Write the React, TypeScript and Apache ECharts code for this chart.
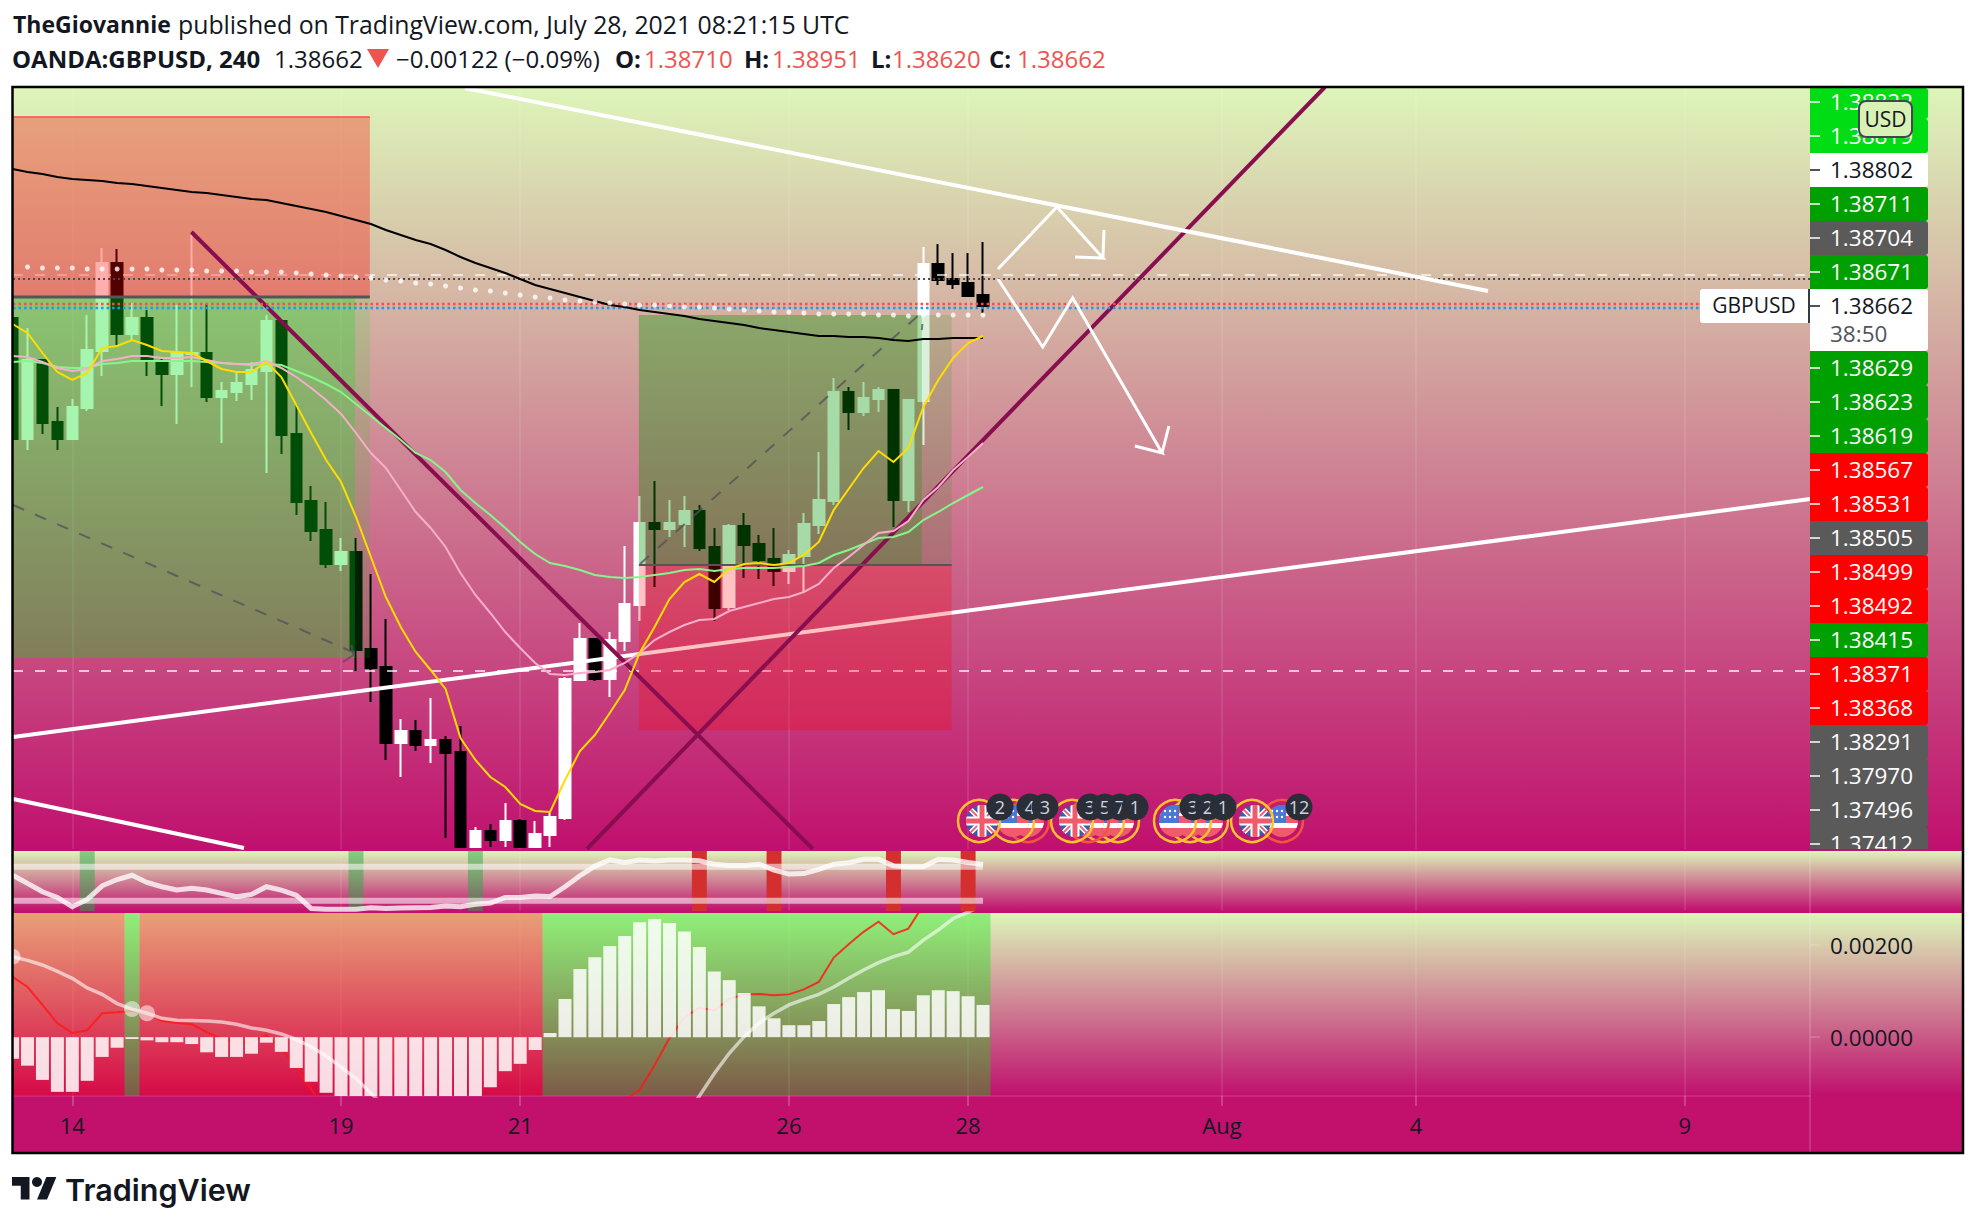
import React, { useEffect, useRef } from "react";
import * as echarts from "echarts";

// ---- candles: [open, close, low, high] for each 4h bar
const candles = [
  [1.38606,1.38122,1.38118,1.38606],[1.38122,1.38438,1.38078,1.38566],[1.38438,1.38186,1.38142,1.38438],[1.3819,1.38122,1.38078,1.3825],
  [1.38122,1.3825,1.38118,1.38282],[1.38246,1.38478,1.38234,1.38618],[1.38474,1.38826,1.38374,1.38886],[1.38826,1.38542,1.38498,1.38882],
  [1.38542,1.38606,1.38518,1.38666],[1.38606,1.38438,1.38374,1.38638],[1.38426,1.38382,1.38254,1.38442],[1.38382,1.38466,1.38182,1.38658],
  [1.38462,1.38466,1.3833,1.38946],[1.38466,1.3829,1.3827,1.38662],[1.3829,1.38314,1.38106,1.3835],[1.3831,1.38346,1.38274,1.3839],
  [1.38342,1.38398,1.38278,1.3843],[1.38394,1.38594,1.37986,1.38618],[1.38594,1.38138,1.38062,1.38594],[1.38142,1.3787,1.37818,1.38258],
  [1.37874,1.37754,1.37714,1.37934],[1.37758,1.37622,1.37606,1.3787],[1.37622,1.3767,1.37594,1.37726],[1.3767,1.37278,1.37194,1.37726],
  [1.37282,1.37206,1.3707,1.37582],[1.3721,1.36906,1.36838,1.37402],[1.36906,1.36954,1.3677,1.37002],[1.36954,1.36898,1.36874,1.36998],
  [1.36898,1.36918,1.36826,1.37086],[1.36918,1.36866,1.36526,1.36934],[1.3687,1.3649,1.3649,1.36974],[1.3649,1.36554,1.3649,1.3657],
  [1.36554,1.36518,1.3649,1.36582],[1.36518,1.36594,1.3649,1.36666],[1.36594,1.3649,1.3649,1.36602],[1.3649,1.36542,1.3649,1.36594],
  [1.36538,1.3661,1.3649,1.36626],[1.36606,1.37162,1.36598,1.3717],[1.37158,1.37322,1.37154,1.37386],[1.37322,1.37162,1.37154,1.37326],
  [1.37162,1.37318,1.3709,1.3735],[1.37314,1.37462,1.37274,1.37694],[1.37458,1.37786,1.37394,1.37894],[1.37786,1.37762,1.3753,1.37954],
  [1.37762,1.37786,1.3773,1.37878],[1.37782,1.37834,1.3769,1.37894],[1.37834,1.37686,1.37674,1.37858],[1.3769,1.37446,1.37394,1.37766],
  [1.3745,1.37774,1.37438,1.37782],[1.37774,1.37698,1.37566,1.37826],[1.37702,1.37638,1.37562,1.37738],[1.37642,1.37594,1.37534,1.37766],
  [1.37594,1.37658,1.37542,1.37678],[1.37654,1.37782,1.3751,1.37826],[1.37778,1.37878,1.37742,1.3807],[1.37874,1.3831,1.37858,1.38366],
  [1.3831,1.3823,1.38158,1.3833],[1.3823,1.38286,1.38214,1.3835],[1.38282,1.38318,1.3823,1.3833],[1.38318,1.37878,1.3777,1.38322],
  [1.37878,1.38278,1.3783,1.38282],[1.38274,1.38822,1.38098,1.3889],[1.38822,1.38758,1.38738,1.38902],[1.38762,1.38742,1.38722,1.38866],
  [1.38746,1.38694,1.38694,1.38866],[1.38698,1.38654,1.38626,1.3891],
];

// ---- moving averages on the price pane
const maYellow = [1.38582,1.38546,1.38466,1.3839,1.38358,1.38386,1.38486,1.38494,1.38518,1.38498,1.38474,1.3847,1.38466,1.38434,1.38402,1.3839,1.3839,1.3843,1.3837,1.38258,1.38146,1.38038,1.3795,1.3781,1.3765,1.3749,1.3737,1.3727,1.37198,1.37122,1.36926,1.36838,1.3677,1.3673,1.36662,1.36634,1.3663,1.36758,1.36874,1.36938,1.37026,1.37118,1.37266,1.3737,1.37482,1.3755,1.37582,1.3755,1.37602,1.37622,1.37626,1.37618,1.37626,1.37658,1.3771,1.37838,1.37922,1.38006,1.38074,1.3803,1.38086,1.3825,1.38358,1.38446,1.38506,1.38534];
const maPink = [1.38454,1.3845,1.3843,1.38406,1.38394,1.38402,1.38434,1.38442,1.38454,1.38454,1.38446,1.38446,1.3845,1.38438,1.38426,1.38422,1.38422,1.38434,1.38406,1.3837,1.38326,1.38278,1.38222,1.38146,1.38066,1.38006,1.37918,1.3783,1.37766,1.3769,1.37586,1.37498,1.37426,1.3735,1.37286,1.37226,1.37182,1.37178,1.37186,1.3719,1.37198,1.37226,1.37266,1.37318,1.3735,1.37378,1.37398,1.37402,1.37434,1.3745,1.37466,1.37482,1.3749,1.3751,1.37542,1.37606,1.3765,1.37698,1.37746,1.37754,1.37794,1.37878,1.3793,1.37998,1.3805,1.38106];
const maGreen = [1.3843,1.38434,1.38426,1.3841,1.38406,1.38406,1.38422,1.38426,1.38434,1.38434,1.38434,1.38434,1.38434,1.3843,1.38426,1.38422,1.38418,1.38422,1.38418,1.38394,1.3837,1.38342,1.3831,1.38262,1.38214,1.38166,1.38118,1.38066,1.38038,1.3799,1.37918,1.37866,1.37818,1.37766,1.3771,1.37662,1.37626,1.37614,1.37598,1.37578,1.3757,1.37566,1.3757,1.37578,1.37586,1.37598,1.37602,1.37594,1.37602,1.37606,1.37606,1.37606,1.3761,1.37614,1.37626,1.37658,1.37678,1.37702,1.37726,1.3773,1.3775,1.37798,1.3783,1.37866,1.37898,1.3793];
const maBlack = [1.39202,1.3919,1.39182,1.3917,1.39162,1.39158,1.39154,1.39146,1.39142,1.39134,1.39126,1.39118,1.3911,1.39106,1.39098,1.3909,1.39082,1.39078,1.39066,1.39054,1.39042,1.3903,1.39014,1.38998,1.38982,1.38958,1.38938,1.38918,1.38902,1.38878,1.3885,1.38826,1.38806,1.38786,1.38762,1.38738,1.38722,1.38706,1.3869,1.38674,1.38658,1.3865,1.38638,1.3863,1.38622,1.38614,1.38602,1.38594,1.38586,1.38578,1.38566,1.38558,1.3855,1.38542,1.38534,1.38534,1.3853,1.3853,1.38526,1.38518,1.38514,1.38522,1.38522,1.38526,1.38526,1.38526];
// dotted white trail, starts at the second bar
const dotsTrail = [1.3881,1.38806,1.38806,1.38806,1.38802,1.38802,1.38802,1.38802,1.38802,1.38798,1.38798,1.38798,1.38794,1.38794,1.38794,1.3879,1.3879,1.3879,1.38786,1.38782,1.38778,1.38774,1.3877,1.38766,1.38758,1.38754,1.38746,1.38742,1.38734,1.38726,1.38718,1.38714,1.38706,1.38698,1.3869,1.38686,1.38678,1.38674,1.3867,1.38666,1.38662,1.38658,1.38658,1.38654,1.3865,1.3865,1.38646,1.38642,1.38638,1.38634,1.3863,1.3863,1.38626,1.38622,1.38622,1.38622,1.38622,1.38618,1.38618,1.38614,1.38618,1.38618,1.38618,1.38618,1.38618];

// ---- RSI pane
const rsiValues = [60,50.5,40.6,34,23,31.6,47.6,55,60,51.6,46.5,42.6,44.6,42.6,38.7,34.7,37.5,46.5,42.6,36.7,21,20.2,20.2,20.2,21.8,21,21.5,21.8,22,24,23,26,27.3,34,34,35.5,35,46.5,59.4,70.8,78,75,78,76.7,78,78,77,72.8,71.6,71.6,73,66,61.4,62,67,73,74.7,78.7,78.7,71,70,70,78.7,78,75,72.8];
const rsiGreenBars = [5, 23, 31];
const rsiRedBars = [46, 51, 59, 64];
const rsiBands = [70, 30];

// ---- MACD pane
const macdHist = [-0.00047,-0.00062,-0.00093,-0.00119,-0.00119,-0.00095,-0.00043,-0.00023,-0.00004,-0.00007,-0.00011,-0.00011,-0.00015,-0.00033,-0.00043,-0.00043,-0.00036,-0.00012,-0.00032,-0.00067,-0.00097,-0.00121,-0.00142,-0.00152,-0.00163,-0.0017,-0.00174,-0.00178,-0.00174,-0.00165,-0.00152,-0.00135,-0.00109,-0.00074,-0.00058,-0.00028,0.00009,0.00083,0.00148,0.00174,0.00198,0.0022,0.0025,0.00257,0.00248,0.0023,0.00196,0.00143,0.00124,0.00096,0.00067,0.00041,0.00026,0.00026,0.00035,0.00072,0.00087,0.00098,0.00102,0.00061,0.00057,0.00091,0.00102,0.001,0.00089,0.0007];
const macdRed = [0.00131,0.00109,0.0007,0.0003,0.00009,0.00015,0.00052,0.00054,0.00057,0.00052,0.00035,0.00031,0.00028,0.00011,-0.00004,-0.0001,-0.00012,0.00004,-0.00024,-0.00067,-0.00113,-0.00165,-0.00213,-0.00246,-0.00278,-0.00307,-0.00328,-0.00343,-0.00354,-0.00365,-0.00372,-0.00365,-0.0035,-0.00333,-0.00311,-0.00289,-0.00267,-0.00246,-0.00224,-0.00198,-0.0017,-0.00137,-0.00115,-0.00061,-0.00002,0.00043,0.00064,0.00058,0.00083,0.00093,0.00094,0.00091,0.00093,0.00104,0.0012,0.00173,0.00202,0.00229,0.00251,0.00224,0.00236,0.00287,0.0032,0.00341,0.00363,0.00385];
const macdWhite = [0.00175,0.00167,0.00157,0.00143,0.00128,0.00107,0.00093,0.00073,0.00061,0.00052,0.00041,0.00037,0.00036,0.00035,0.00033,0.00028,0.0002,0.00015,0.00007,-0.00005,-0.00021,-0.00041,-0.00065,-0.0009,-0.00122,-0.00154,-0.00191,-0.00213,-0.00235,-0.00257,-0.00278,-0.00293,-0.00307,-0.00315,-0.00322,-0.00324,-0.00324,-0.0032,-0.00311,-0.003,-0.00285,-0.00267,-0.00246,-0.00224,-0.00202,-0.0017,-0.00128,-0.00079,-0.00035,0.00001,0.00031,0.00052,0.0007,0.00082,0.00093,0.00109,0.00128,0.00146,0.00162,0.00175,0.00185,0.00211,0.00233,0.00258,0.00272,0.00287];
const macdCrossDots = [[0, 0.00175], [8, 0.00061], [9, 0.00052]];
const macdRedZones = [[-1, 7.5], [8.5, 35.5]];
const macdGreenZones = [[7.5, 8.5], [35.5, 65.5]];
const macdTickValues = [0, 0.002];

// ---- drawings on the price pane: [bar index, price]
const trendTop = [[30.3,1.39526],[98.82,1.38714]];
const trendUp = [[0.03,1.3693],[120.4,1.37882]];
const trendLow = [[0.03,1.36682],[15.5,1.36486]];
const purpleDown = [[11.98,1.3895],[53.6,1.36482]];
const purpleUp = [[38.47,1.36482],[87.9,1.3953]];
const arrowOne = [[66,1.38802],[69.95,1.3905],[73.03,1.38846],[71.16,1.3885],[73.03,1.38846],[73.1,1.38958]];
const arrowTwo = [[66,1.38762],[69,1.3849],[71,1.38686],[76.99,1.38066],[75.17,1.38094],[76.99,1.38066],[77.45,1.38174]];
const dashedDown = [[0.03,1.37858],[22.93,1.37266]];
const dashedDownHead = [[22.69,1.37298],[22.83,1.37258],[22.13,1.3723]];
const dashedUp = [[42.02,1.37622],[60.64,1.38614],[60.98,1.38606],[60.9,1.38558]];
const entryOne = [[0.03,1.3869],[23.93,1.3869]];
const entryTwo = [[41.95,1.37618],[62.9,1.37618]];
const stopTop = [[0.03,1.3941],[23.93,1.3941]];
const levelDashWhite = 1.38778;
const levelDotDark = 1.38762;
const levelDotRed = 1.38662;
const levelDotBlue = 1.38646;
const levelDashLow = 1.37194;
// boxes: [x from, x to, price top, price bottom]
const redBoxOne = [[0.03,23.93,1.3941,1.3869]];
const redBoxTwo = [[41.95,62.9,1.37618,1.36958]];
const greenOneOuter = [[0.03,23.93,1.3869,1.37246]];
const greenOneInner = [[0.03,22.93,1.3869,1.37246]];
const greenTwoOuter = [[41.95,62.9,1.38618,1.37618]];
const greenTwoInner = [[41.95,60.9,1.38618,1.37618]];

// ---- time axis
const timeTicks = [4, 22, 34, 52, 64, 81, 94, 112];
const timeNames = ["14", "19", "21", "26", "28", "Aug", "4", "9"];

// ---- price scale labels
const priceLabels = ["1.38822","1.38819","1.38802","1.38711","1.38704","1.38671","1.38662","1.38629","1.38623","1.38619","1.38567","1.38531","1.38505","1.38499","1.38492","1.38415","1.38371","1.38368","1.38291","1.37970","1.37496","1.37412"];
const priceLabelKinds = ["bright","bright","white","green","gray","green","white","green","green","green","red","red","gray","red","red","green","red","red","gray","gray","gray","gray"];
const countdown = "38:50";

// ---- news flags
const flagItems: [string, number, string][] = [
  ["uk",979,"o"],["us",1013,"o"],["us",1028,"r"],
  ["uk",1072,"o"],["us",1088,"r"],["us",1103,"o"],["us",1118,"o"],
  ["us",1175,"o"],["us",1190,"o"],["us",1207,"o"],
  ["uk",1252,"o"],["us",1282,"r"],
];
const badgeItems: [string, number][] = [["2",1000],["4",1030],["3",1045],["3",1090],["5",1105],["7",1120],["1",1135],["3",1193],["2",1208],["1",1223],["12",1299]];

// ---- header
const INK = "#131722";
const UP = "#EF5350";
const headerLineOne: [string, number, boolean, string][] = [
  ["TheGiovannie",13,true,INK],
  ["published on TradingView.com, July 28, 2021 08:21:15 UTC",178,false,INK],
];
const headerLineTwo: [string, number, boolean, string][] = [
  ["OANDA:GBPUSD, 240",12,true,INK],["1.38662",274,false,INK],["\u22120.00122 (\u22120.09%)",396,false,INK],
  ["O:",615,true,INK],["1.38710",644,false,UP],["H:",744,true,INK],["1.38951",772,false,UP],
  ["L:",871,true,INK],["1.38620",892,false,UP],["C:",989,true,INK],["1.38662",1017,false,UP],
];

const FONT = '"Open Sans", sans-serif';
const ukSvg = `<svg xmlns="http://www.w3.org/2000/svg" viewBox="0 0 32 32"><defs><clipPath id="c"><circle cx="16" cy="16" r="16"/></clipPath></defs><g clip-path="url(#c)"><rect width="32" height="32" fill="#3F5BA9"/><path d="M0 0L32 32M32 0L0 32" stroke="#fff" stroke-width="5"/><path d="M0 0L32 32M32 0L0 32" stroke="#EF5B6A" stroke-width="1.8"/><path d="M16 0V32M0 16H32" stroke="#fff" stroke-width="9"/><path d="M16 0V32M0 16H32" stroke="#EF5B6A" stroke-width="5"/></g></svg>`;
const usSvg = `<svg xmlns="http://www.w3.org/2000/svg" viewBox="0 0 32 32"><defs><clipPath id="c"><circle cx="16" cy="16" r="16"/></clipPath></defs><g clip-path="url(#c)"><rect width="32" height="32" fill="#EF5B6A"/><rect y="18" width="32" height="5" fill="#fff"/><rect y="8" width="32" height="3" fill="#fff"/><rect width="20" height="18" fill="#4A78D8"/><g fill="#fff"><circle cx="6" cy="6" r="1.2"/><circle cx="11" cy="6" r="1.2"/><circle cx="16" cy="6" r="1.2"/><circle cx="6" cy="12" r="1.2"/><circle cx="11" cy="12" r="1.2"/><circle cx="16" cy="12" r="1.2"/></g></g></svg>`;
const uri = (s: string) => "data:image/svg+xml;charset=utf-8," + encodeURIComponent(s);

echarts.graphic.registerShape(
  "tvlogoMark",
  echarts.graphic.extendPath("M14 22H7V11H0V4h14v18zM28 22h-8l7.5-18h8L28 22z", {})
);

const seq = (a: number[], from = 0) => a.map((v, i) => [i + from, v]);
const flat = (p: number) => [[0.03, p], [120.4, p]];

const boxRender = (color: string) => (_: any, api: any) => {
  const a = api.coord([api.value(0), api.value(2)]);
  const b = api.coord([api.value(1), api.value(3)]);
  return { type: "rect", shape: { x: a[0], y: a[1], width: b[0] - a[0], height: b[1] - a[1] }, style: { fill: color } };
};
const boxes = (data: number[][], color: string, g: number, z: number) => ({
  type: "custom", xAxisIndex: g, yAxisIndex: g, data, clip: true, silent: true, z,
  encode: { x: [0, 1], y: [2, 3] }, renderItem: boxRender(color),
});
const line = (data: any[], color: string, width: number, z: number, g = 0, dash?: number[] | string) => ({
  type: "line", xAxisIndex: g, yAxisIndex: g, data, symbol: "none", silent: true, z, clip: true,
  lineStyle: { color, width, type: dash || "solid", cap: "butt", join: "miter" },
});

function buildGraphic() {
  const g: any[] = [];
  const grad = () => new echarts.graphic.LinearGradient(0, 0, 0, 1, [
    { offset: 0, color: "#DDF5B9" }, { offset: 1, color: "#C0106E" },
  ]);
  // backdrop
  g.push({ type: "rect", z: -20, silent: true, shape: { x: 13, y: 88, width: 1950, height: 1065 }, style: { fill: "#C2106D" } });
  [[88, 761], [851, 60], [913, 183]].forEach(([y, h]) =>
    g.push({ type: "rect", z: -19, silent: true, shape: { x: 13, y, width: 1950, height: h }, style: { fill: grad() } })
  );
  // white margin left of the frame, hides the part of the first bar outside the pane
  g.push({ type: "rect", z: 10, silent: true, shape: { x: 0, y: 80, width: 12, height: 1080 }, style: { fill: "#FFFFFF" } });
  // price scale
  const kindFill: Record<string, string> = { bright: "#00DD14", green: "#00A000", red: "#FF0000", gray: "#5A5A5A", white: "#FFFFFF" };
  let extra = 0;
  priceLabels.forEach((t, k) => {
    const kind = priceLabelKinds[k];
    const cy = 102 + 34 * k + extra;
    const isLast = t === "1.38662";
    const top = Math.max(88, cy - 17);
    g.push({ type: "rect", z: 30, silent: true, shape: { x: 1810, y: top, width: 118, height: cy + 17 - top + (isLast ? 28 : 0), r: [0, 3, 3, 0] }, style: { fill: kindFill[kind] } });
    const ink = kind === "white" ? "#131722" : "#FFFFFF";
    g.push({ type: "line", z: 31, silent: true, shape: { x1: 1810, y1: cy, x2: 1820, y2: cy }, style: { stroke: kind === "white" ? "#50535E" : "rgba(255,255,255,0.75)", lineWidth: 2 } });
    g.push({ type: "text", z: 31, silent: true, x: 1830, y: cy - 1, style: { text: t, fill: ink, font: `22.5px ${FONT}`, align: "left", verticalAlign: "middle" } });
    if (isLast) {
      g.push({ type: "text", z: 31, silent: true, x: 1830, y: cy + 27, style: { text: countdown, fill: "#50535E", font: `22.5px ${FONT}`, align: "left", verticalAlign: "middle" } });
      extra = 28;
    }
  });
  // covers that clip the last label at the pane edge
  g.push({ type: "rect", z: 32, silent: true, shape: { x: 1810, y: 849, width: 118, height: 2 }, style: { fill: "#C2106D" } });
  g.push({ type: "rect", z: 32, silent: true, shape: { x: 1810, y: 851, width: 118, height: 60 }, style: { fill: grad() } });
  g.push({ type: "line", z: 33, silent: true, shape: { x1: 1810, y1: 851, x2: 1810, y2: 1153 }, style: { stroke: "rgba(255,255,255,0.14)", lineWidth: 2 } });
  // symbol tag
  g.push({ type: "rect", z: 33, silent: true, shape: { x: 1700, y: 289, width: 110, height: 34, r: [3, 0, 0, 3] }, style: { fill: "#FFFFFF" } });
  g.push({ type: "rect", z: 34, silent: true, shape: { x: 1808, y: 289, width: 2, height: 34 }, style: { fill: "#363A45" } });
  g.push({ type: "text", z: 34, silent: true, x: 1754, y: 305, style: { text: "GBPUSD", fill: "#131722", font: `21px ${FONT}`, align: "center", verticalAlign: "middle" } });
  // currency badge
  g.push({ type: "rect", z: 35, silent: true, shape: { x: 1859, y: 101, width: 53, height: 36, r: 7 }, style: { fill: "#D8F1B5", stroke: "#434651", lineWidth: 2 } });
  g.push({ type: "text", z: 36, silent: true, x: 1885.5, y: 119, style: { text: "USD", fill: "#131722", font: `21px ${FONT}`, align: "center", verticalAlign: "middle" } });
  // flags, the first one of a group on top
  [...flagItems].reverse().forEach(([kind, x, ring]) => {
    g.push({ type: "image", z: 20, silent: true, x: x - 16 + (kind === "uk" ? 3 : 0), y: 805, style: { image: uri(kind === "uk" ? ukSvg : usSvg), width: 32, height: 32 } });
    g.push({ type: "circle", z: 20, silent: true, shape: { cx: x, cy: 821, r: 21 }, style: { fill: "none", stroke: ring === "o" ? "#FFC02F" : "#F0553E", lineWidth: 2.5 } });
  });
  badgeItems.forEach(([t, x], i) => {
    g.push({ type: "circle", z: 21 + i * 0.01, silent: true, shape: { cx: x, cy: 807, r: 13.5 }, style: { fill: "#2A2E39" } });
    g.push({ type: "text", z: 21 + i * 0.01, silent: true, x, y: 807, style: { text: t, fill: "#D1D4DC", font: `18px ${FONT}`, align: "center", verticalAlign: "middle" } });
  });
  // frame
  g.push({ type: "rect", z: 40, silent: true, shape: { x: 12.5, y: 87, width: 1950.5, height: 1066 }, style: { fill: "none", stroke: "#000", lineWidth: 2.5 } });
  // header
  headerLineOne.forEach(([t, x, b, c]) =>
    g.push({ type: "text", z: 40, silent: true, x, y: 24, style: { text: t, fill: c, font: `${b ? "bold 23px" : "24.8px"} ${FONT}`, align: "left", verticalAlign: "middle" } })
  );
  headerLineTwo.forEach(([t, x, b, c]) =>
    g.push({ type: "text", z: 40, silent: true, x, y: 58, style: { text: t, fill: c, font: `${b ? "bold " : ""}24px ${FONT}`, align: "left", verticalAlign: "middle" } })
  );
  g.push({ type: "polygon", z: 40, silent: true, shape: { points: [[367, 49], [389, 49], [378, 68]] }, style: { fill: UP } });
  // logo
  g.push({ type: "tvlogoMark", z: 40, silent: true, x: 12, y: 1172, scaleX: 1.25, scaleY: 1.25, style: { fill: INK } });
  g.push({ type: "circle", z: 40, silent: true, shape: { cx: 37, cy: 1182, r: 5 }, style: { fill: INK } });
  g.push({ type: "text", z: 40, silent: true, x: 65, y: 1189, style: { text: "TradingView", fill: INK, font: "600 30.5px Inter, sans-serif", align: "left", verticalAlign: "middle" } });
  return g;
}

function buildOption() {
  const xBase = {
    type: "value", min: 0.027, max: 120.39, scale: false,
    splitLine: { show: true, lineStyle: { color: "rgba(255,255,255,0.09)", width: 2 } },
    axisLine: { show: false },
    axisTick: { show: false, customValues: timeTicks },
    axisLabel: { show: false },
  };
  const yBase = { type: "value", position: "right", scale: true, splitLine: { show: false }, axisLine: { show: false }, axisTick: { show: false }, axisLabel: { show: false } };
  const grids = [
    { left: 13, top: 88, width: 1797, height: 761 },
    { left: 13, top: 851, width: 1797, height: 60 },
    { left: 13, top: 913, width: 1797, height: 183 },
  ];
  return {
    animation: false,
    backgroundColor: "#FFFFFF",
    grid: grids,
    xAxis: [
      { ...xBase, gridIndex: 0 },
      { ...xBase, gridIndex: 1 },
      {
        ...xBase, gridIndex: 2,
        axisLine: { show: true, onZero: false, lineStyle: { color: "rgba(255,255,255,0.1)", width: 2 } },
        axisTick: { show: true, customValues: timeTicks, length: 10, lineStyle: { color: "rgba(255,255,255,0.2)", width: 2 } },
        axisLabel: {
          show: true, customValues: timeTicks, margin: 18, fontSize: 22, fontFamily: FONT, color: "#131722",
          formatter: (v: number) => timeNames[timeTicks.indexOf(v)] || "",
        },
      },
    ],
    yAxis: [
      { ...yBase, gridIndex: 0, min: 1.36482, max: 1.39526 },
      { ...yBase, gridIndex: 1, min: 18, max: 88.5 },
      {
        ...yBase, gridIndex: 2, min: -0.00128, max: 0.0027,
        axisTick: { show: true, customValues: macdTickValues, length: 10, lineStyle: { color: "rgba(255,255,255,0.15)", width: 2 } },
        axisLabel: { show: true, customValues: macdTickValues, margin: 20, fontSize: 22.5, fontFamily: FONT, color: "#131722", padding: [0, 0, 2, 0], formatter: (v: number) => v.toFixed(5) },
      },
    ],
    graphic: { elements: buildGraphic() },
    series: [
      {
        type: "candlestick", xAxisIndex: 0, yAxisIndex: 0, z: 2, silent: true, clip: true, barWidth: 11,
        data: candles.map((c, i) => [i, ...c]),
        encode: { x: 0, y: [1, 2, 3, 4] },
        itemStyle: { color: "#FFFFFF", color0: "#000000", borderColor: "#FFFFFF", borderColor0: "#000000", borderWidth: 2 },
      },
      // drawn under the position boxes
      line(trendUp, "#FFFFFF", 4, 2.5),
      line(flat(levelDashWhite), "rgba(255,255,255,0.65)", 2, 2.5, 0, [10, 12]),
      line(flat(levelDashLow), "rgba(255,255,255,0.7)", 2, 2.5, 0, [10, 12]),
      boxes(redBoxOne, "rgba(255,0,0,0.32)", 0, 3),
      boxes(redBoxTwo, "rgba(255,0,0,0.24)", 0, 3),
      boxes(greenOneOuter, "rgba(0,225,20,0.14)", 0, 3),
      boxes(greenOneInner, "rgba(0,225,20,0.24)", 0, 3),
      boxes(greenTwoOuter, "rgba(0,150,0,0.14)", 0, 3),
      boxes(greenTwoInner, "rgba(0,150,0,0.24)", 0, 3),
      line(purpleDown, "#880E4F", 4, 4),
      line(purpleUp, "#880E4F", 4, 4),
      line(flat(levelDotDark), "#4A4A55", 2, 4, 0, [2, 3]),
      line(flat(levelDotRed), "#FF4A4A", 2.5, 4, 0, [2.5, 3]),
      line(flat(levelDotBlue), "#2196F3", 2.5, 4, 0, [2.5, 3]),
      line(entryOne, "#555", 3, 4),
      line(entryTwo, "#555", 2, 4),
      line(stopTop, "rgba(255,80,80,0.8)", 2, 4),
      line(dashedDown, "rgba(80,80,90,0.75)", 2, 4, 0, [12, 12]),
      line(dashedDownHead, "rgba(80,80,90,0.75)", 2, 4),
      line(dashedUp, "rgba(80,80,90,0.75)", 2, 4, 0, [12, 12]),
      line(seq(maBlack), "#000000", 2, 5),
      line(seq(maGreen), "#86F58C", 2, 5),
      line(seq(maPink), "#F6AECB", 2, 5),
      line(seq(maYellow), "#FFDD00", 2, 5),
      {
        type: "scatter", xAxisIndex: 0, yAxisIndex: 0, z: 5, silent: true, clip: true, symbolSize: 5,
        itemStyle: { color: "#FFFFFF" }, data: seq(dotsTrail, 1),
      },
      line(trendTop, "#FFFFFF", 4, 6),
      line(trendLow, "#FFFFFF", 4, 6),
      line(arrowOne, "#FFFFFF", 3, 6),
      line(arrowTwo, "#FFFFFF", 3, 6),
      // RSI
      boxes(rsiGreenBars.map((i) => [i - 0.5, i + 0.5, 88.5, 18]), "rgba(40,170,70,0.5)", 1, 2),
      boxes(rsiRedBars.map((i) => [i - 0.5, i + 0.5, 88.5, 18]), "#D32F2F", 1, 2),
      ...rsiBands.map((b) => line([[0, b], [65, b]], "rgba(255,255,255,0.55)", 6, 3, 1)),
      line(seq(rsiValues), "rgba(255,255,255,0.78)", 5, 4, 1),
      // MACD
      boxes(macdRedZones.map(([a, b]) => [a, b, 0.0027, -0.00128]), "rgba(255,0,0,0.35)", 2, 2),
      boxes(macdGreenZones.map(([a, b]) => [a, b, 0.0027, -0.00128]), "rgba(0,231,0,0.35)", 2, 2),
      line(seq(macdRed), "rgba(255,25,25,0.85)", 2, 3, 2),
      line(seq(macdWhite), "rgba(255,255,255,0.6)", 3.5, 3, 2),
      {
        type: "bar", xAxisIndex: 2, yAxisIndex: 2, z: 4, silent: true, barWidth: 13, clip: true,
        itemStyle: { color: "rgba(255,255,255,0.85)" }, data: seq(macdHist),
      },
      {
        type: "scatter", xAxisIndex: 2, yAxisIndex: 2, z: 5, silent: true, clip: false, symbolSize: 16,
        itemStyle: { color: "rgba(255,255,255,0.65)" }, data: macdCrossDots,
      },
    ],
  };
}

export default function App() {
  const ref = useRef<HTMLDivElement>(null);
  useEffect(() => {
    document.body.style.margin = "0";
    const chart = echarts.init(ref.current!, undefined, { renderer: "svg" });
    chart.setOption(buildOption() as any);
    return () => chart.dispose();
  }, []);
  return <div ref={ref} style={{ width: 1976, height: 1226, position: "absolute", left: 0, top: 0 }} />;
}
